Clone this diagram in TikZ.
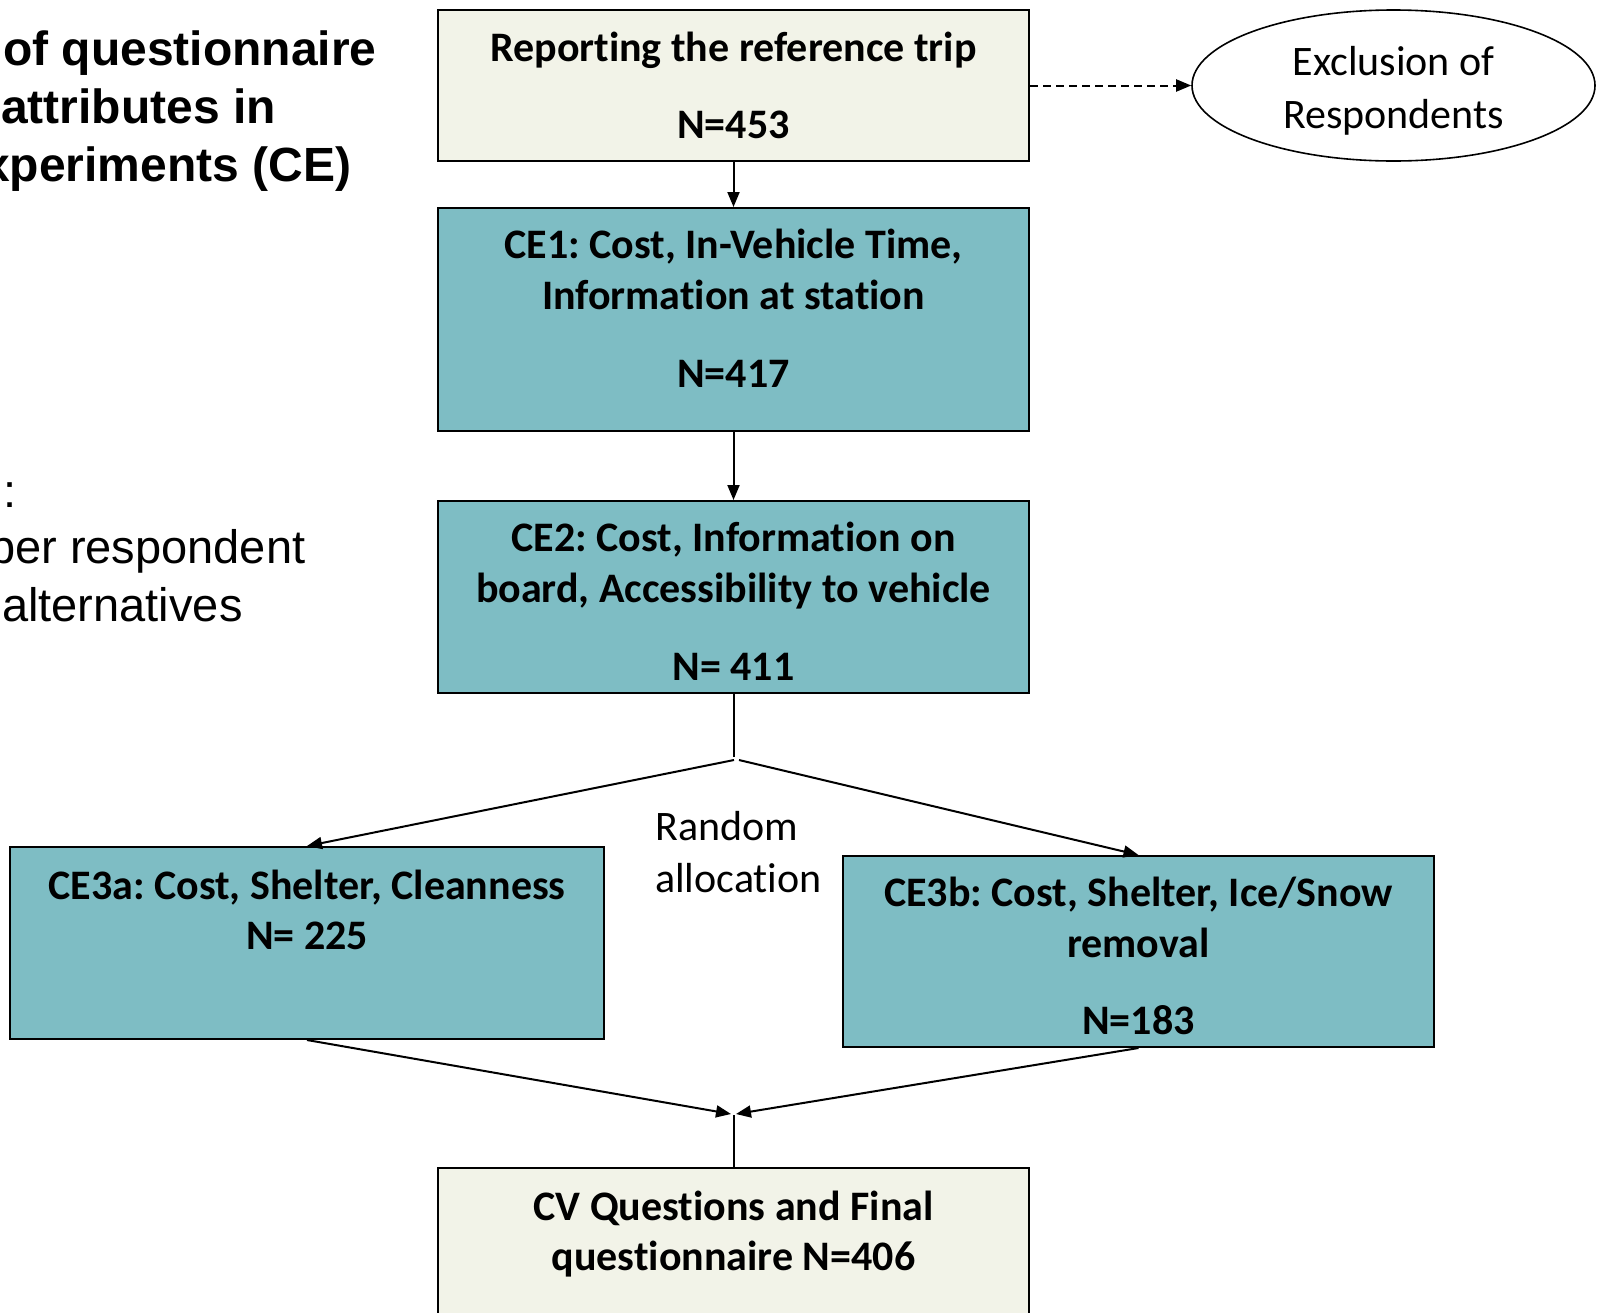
\documentclass[tikz,border=0pt]{standalone}
\usepackage{fontspec}
\usetikzlibrary{arrows.meta,shapes.geometric}
\newfontfamily\carlitof[Ligatures=NoCommon]{Carlito}
\newfontfamily\arialf{Liberation Sans}
\definecolor{tealc}{RGB}{126,189,196}
\definecolor{beigec}{RGB}{242,243,232}
\frenchspacing
\tikzset{
  box/.style={draw=black, line width=2pt, minimum width=591pt, inner sep=0pt},
  tealbox/.style={box, fill=tealc},
  beigebox/.style={box, fill=beigec},
  lbl/.style={inner sep=0pt, anchor=base, font=\carlitof\bfseries\fontsize{42}{51}\selectfont},
  plainlbl/.style={inner sep=0pt, font=\carlitof\fontsize{42}{51}\selectfont},
  titlelbl/.style={inner sep=0pt, anchor=base west, font=\arialf\bfseries\fontsize{48}{58}\selectfont},
  bodylbl/.style={inner sep=0pt, anchor=base west, font=\arialf\fontsize{47}{57}\selectfont},
  arr/.style={-{Triangle[length=15pt,width=12pt]}, line width=2pt},
  conn/.style={line width=2pt},
}
\begin{document}
\frenchspacing
\begin{tikzpicture}[x=1pt,y=-1pt]
\useasboundingbox (0,0) rectangle (1597,1312);
\clip (0,0) rectangle (1597,1312);
\fill[white] (0,0) rectangle (1597,1312);

% left (cut-off) text
\node[titlelbl] (t1) at (3,65) {of questionnaire};
\node[titlelbl] (t2) at (1,123) {attributes in};
\node[titlelbl] (t3) at (-17,181) {xperiments (CE)};
\node[bodylbl] (b1) at (3,507) {:};
\node[bodylbl] (b2) at (-11,563) {per respondent};
\node[bodylbl] (b3) at (2,621) {alternatives};

% boxes
\node[beigebox, minimum height=151pt] (top) at (733.5,85.5) {};
\node[lbl] (top1) at (733.5,61) {Reporting the reference trip};
\node[lbl] (top2) at (733.5,138) {N=453};

\node[tealbox, minimum height=223pt] (ce1) at (733.5,319.5) {};
\node[lbl] (ce1a) at (733.5,258) {CE1: Cost, In-Vehicle Time,};
\node[lbl] (ce1b) at (733.5,309) {Information at station};
\node[lbl] (ce1c) at (733.5,387) {N=417};

\node[tealbox, minimum height=192pt] (ce2) at (733.5,597) {};
\node[lbl] (ce2a) at (733.5,551) {CE2: Cost, Information on};
\node[lbl] (ce2b) at (733.5,602) {board, Accessibility to vehicle};
\node[lbl] (ce2c) at (733.5,680) {N= 411};

\node[tealbox, minimum width=594pt, minimum height=192pt] (ce3a) at (307,943) {};
\node[lbl] (ce3aa) at (307,899) {CE3a: Cost, Shelter, Cleanness};
\node[lbl] (ce3ab) at (307,949) {N= 225};

\node[tealbox, minimum height=191pt] (ce3b) at (1138.5,951.5) {};
\node[lbl] (ce3ba) at (1138.5,906) {CE3b: Cost, Shelter, Ice/Snow};
\node[lbl] (ce3bb) at (1138.5,957) {removal};
\node[lbl] (ce3bc) at (1138.5,1034) {N=183};

\node[beigebox, minimum height=172pt] (cv) at (733.5,1254) {};
\node[lbl] (cva) at (733.5,1220) {CV Questions and Final};
\node[lbl] (cvb) at (733.5,1270) {questionnaire N=406};

\node[ellipse, draw=black, line width=1.6pt, fill=white, minimum width=403pt, minimum height=151pt, inner sep=0pt] (excl) at (1393.5,85.5) {};
\node[plainlbl, anchor=base] (exa) at (1393.5,75) {Exclusion of};
\node[plainlbl, anchor=base] (exb) at (1393.5,128) {Respondents};

\node[plainlbl, anchor=base west] (ra1) at (655,840) {Random};
\node[plainlbl, anchor=base west] (ra2) at (655,892) {allocation};

% connectors
\draw[arr, dashed, dash pattern=on 8pt off 5pt] (top.east) -- (excl.west);
\draw[arr] (top.south) -- (ce1.north);
\draw[arr] (ce1.south) -- (ce2.north);
\coordinate (j1) at (733.5,757);
\coordinate (jl) at (734,760);
\coordinate (jr) at (739,760);
\draw[conn] (ce2.south) -- (j1);
\draw[arr] (jl) -- (ce3a.north);
\draw[arr] (jr) -- (ce3b.north);
\coordinate (m1) at (731,1114);
\coordinate (m2) at (736,1114);
\coordinate (m3) at (733.5,1115);
\draw[arr] (ce3a.south) -- (m1);
\draw[arr] (ce3b.south) -- (m2);
\draw[conn] (cv.north) -- (m3);
\end{tikzpicture}
\end{document}
